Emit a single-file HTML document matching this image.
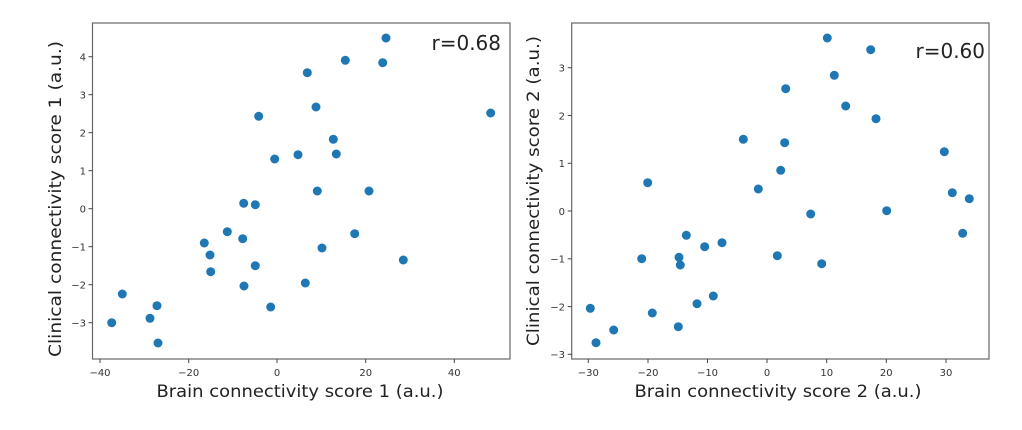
<!DOCTYPE html>
<html><head><meta charset="utf-8"><style>
html,body{margin:0;padding:0;background:#fff;}
svg{display:block;}
text{font-family:"DejaVu Sans","Liberation Sans",sans-serif;fill:#222;}
.t{font-size:10px;fill:#333;}
</style></head><body>
<svg width="1022" height="430" viewBox="0 0 1022 430" xmlns="http://www.w3.org/2000/svg">
<rect width="1022" height="430" fill="#fff"/>
<!-- Left axes -->
<rect x="92.5" y="23" width="417.5" height="336" fill="none" stroke="#666" stroke-width="1.2"/>
<g stroke="#444" stroke-width="1">
<line x1="100" y1="359" x2="100" y2="363"/><line x1="188.7" y1="359" x2="188.7" y2="363"/><line x1="277" y1="359" x2="277" y2="363"/><line x1="365.7" y1="359" x2="365.7" y2="363"/><line x1="454.3" y1="359" x2="454.3" y2="363"/>
<line x1="88.5" y1="56.7" x2="92.5" y2="56.7"/><line x1="88.5" y1="94.7" x2="92.5" y2="94.7"/><line x1="88.5" y1="132.7" x2="92.5" y2="132.7"/><line x1="88.5" y1="170.7" x2="92.5" y2="170.7"/><line x1="88.5" y1="208.7" x2="92.5" y2="208.7"/><line x1="88.5" y1="246.7" x2="92.5" y2="246.7"/><line x1="88.5" y1="284.7" x2="92.5" y2="284.7"/><line x1="88.5" y1="322.7" x2="92.5" y2="322.7"/>
</g>
<g class="t" text-anchor="middle">
<text class="t" x="100" y="376">−40</text><text class="t" x="188.7" y="376">−20</text><text class="t" x="277" y="376">0</text><text class="t" x="365.7" y="376">20</text><text class="t" x="454.3" y="376">40</text>
</g>
<g text-anchor="end">
<text class="t" x="86" y="60.5">4</text><text class="t" x="86" y="98.5">3</text><text class="t" x="86" y="136.5">2</text><text class="t" x="86" y="174.5">1</text><text class="t" x="86" y="212.5">0</text><text class="t" x="86" y="250.5">−1</text><text class="t" x="86" y="288.5">−2</text><text class="t" x="86" y="326.5">−3</text>
</g>
<text x="300" y="397" font-size="17" text-anchor="middle" textLength="287" lengthAdjust="spacingAndGlyphs">Brain connectivity score 1 (a.u.)</text>
<text transform="translate(61,199) rotate(-90)" font-size="17" text-anchor="middle" textLength="316" lengthAdjust="spacingAndGlyphs">Clinical connectivity score 1 (a.u.)</text>
<text x="501" y="50" font-size="20" text-anchor="end">r=0.68</text>
<g fill="#1f77b4" id="L">
<circle cx="386" cy="38" r="4.5"/><circle cx="345.3" cy="60.3" r="4.5"/><circle cx="382.7" cy="62.7" r="4.5"/><circle cx="307.3" cy="72.7" r="4.5"/><circle cx="316" cy="107" r="4.5"/><circle cx="490.7" cy="113" r="4.5"/><circle cx="258.7" cy="116.3" r="4.5"/><circle cx="333.3" cy="139.3" r="4.5"/><circle cx="336.3" cy="154" r="4.5"/><circle cx="298" cy="154.7" r="4.5"/><circle cx="274.7" cy="159" r="4.5"/><circle cx="317.3" cy="191" r="4.5"/><circle cx="369" cy="191" r="4.5"/><circle cx="243.7" cy="203.3" r="4.5"/><circle cx="255.3" cy="204.7" r="4.5"/><circle cx="227.3" cy="231.7" r="4.5"/><circle cx="242.7" cy="238.7" r="4.5"/><circle cx="354.7" cy="233.7" r="4.5"/><circle cx="204.3" cy="243" r="4.5"/><circle cx="322" cy="248" r="4.5"/><circle cx="210" cy="255" r="4.5"/><circle cx="403.3" cy="260" r="4.5"/><circle cx="210.7" cy="271.7" r="4.5"/><circle cx="255.3" cy="265.7" r="4.5"/><circle cx="244" cy="286" r="4.5"/><circle cx="305.3" cy="283" r="4.5"/><circle cx="122.3" cy="294" r="4.5"/><circle cx="270.7" cy="307" r="4.5"/><circle cx="157" cy="305.7" r="4.5"/><circle cx="150" cy="318.3" r="4.5"/><circle cx="111.7" cy="322.7" r="4.5"/><circle cx="158" cy="343" r="4.5"/>
</g>
<!-- Right axes -->
<rect x="571.7" y="23" width="417.3" height="336" fill="none" stroke="#666" stroke-width="1.2"/>
<g stroke="#444" stroke-width="1">
<line x1="588.3" y1="359" x2="588.3" y2="363"/><line x1="648" y1="359" x2="648" y2="363"/><line x1="707.5" y1="359" x2="707.5" y2="363"/><line x1="767" y1="359" x2="767" y2="363"/><line x1="826.7" y1="359" x2="826.7" y2="363"/><line x1="886.3" y1="359" x2="886.3" y2="363"/><line x1="946" y1="359" x2="946" y2="363"/>
<line x1="567.7" y1="67.7" x2="571.7" y2="67.7"/><line x1="567.7" y1="115.5" x2="571.7" y2="115.5"/><line x1="567.7" y1="163.3" x2="571.7" y2="163.3"/><line x1="567.7" y1="211" x2="571.7" y2="211"/><line x1="567.7" y1="258.8" x2="571.7" y2="258.8"/><line x1="567.7" y1="306.6" x2="571.7" y2="306.6"/><line x1="567.7" y1="354.3" x2="571.7" y2="354.3"/>
</g>
<g text-anchor="middle">
<text class="t" x="588.3" y="376">−30</text><text class="t" x="648" y="376">−20</text><text class="t" x="707.5" y="376">−10</text><text class="t" x="767" y="376">0</text><text class="t" x="826.7" y="376">10</text><text class="t" x="886.3" y="376">20</text><text class="t" x="946" y="376">30</text>
</g>
<g text-anchor="end">
<text class="t" x="565" y="71.5">3</text><text class="t" x="565" y="119.3">2</text><text class="t" x="565" y="167">1</text><text class="t" x="565" y="214.8">0</text><text class="t" x="565" y="262.6">−1</text><text class="t" x="565" y="310.4">−2</text><text class="t" x="565" y="358">−3</text>
</g>
<text x="778" y="397" font-size="17" text-anchor="middle" textLength="287" lengthAdjust="spacingAndGlyphs">Brain connectivity score 2 (a.u.)</text>
<text transform="translate(539,191) rotate(-90)" font-size="17" text-anchor="middle" textLength="310" lengthAdjust="spacingAndGlyphs">Clinical connectivity score 2 (a.u.)</text>
<text x="985" y="58" font-size="20" text-anchor="end">r=0.60</text>
<g fill="#1f77b4">
<circle cx="827.3" cy="38" r="4.5"/><circle cx="870.7" cy="49.7" r="4.5"/><circle cx="834.3" cy="75.3" r="4.5"/><circle cx="785.7" cy="88.7" r="4.5"/><circle cx="845.7" cy="106" r="4.5"/><circle cx="876" cy="118.7" r="4.5"/><circle cx="743.3" cy="139.3" r="4.5"/><circle cx="784.7" cy="142.7" r="4.5"/><circle cx="944.3" cy="151.7" r="4.5"/><circle cx="780.7" cy="170.3" r="4.5"/><circle cx="647.7" cy="182.7" r="4.5"/><circle cx="758.3" cy="189" r="4.5"/><circle cx="952.3" cy="192.7" r="4.5"/><circle cx="969.3" cy="198.7" r="4.5"/><circle cx="886.7" cy="210.7" r="4.5"/><circle cx="810.7" cy="214" r="4.5"/><circle cx="962.7" cy="233.3" r="4.5"/><circle cx="686.3" cy="235.3" r="4.5"/><circle cx="722" cy="242.7" r="4.5"/><circle cx="704.7" cy="246.7" r="4.5"/><circle cx="641.7" cy="258.7" r="4.5"/><circle cx="679" cy="257.3" r="4.5"/><circle cx="680.3" cy="265" r="4.5"/><circle cx="777.3" cy="255.7" r="4.5"/><circle cx="821.7" cy="263.7" r="4.5"/><circle cx="713.3" cy="296" r="4.5"/><circle cx="697" cy="303.7" r="4.5"/><circle cx="652.3" cy="313" r="4.5"/><circle cx="590.3" cy="308.3" r="4.5"/><circle cx="678.3" cy="326.7" r="4.5"/><circle cx="613.7" cy="330" r="4.5"/><circle cx="596" cy="342.7" r="4.5"/>
</g>
</svg>
</body></html>
